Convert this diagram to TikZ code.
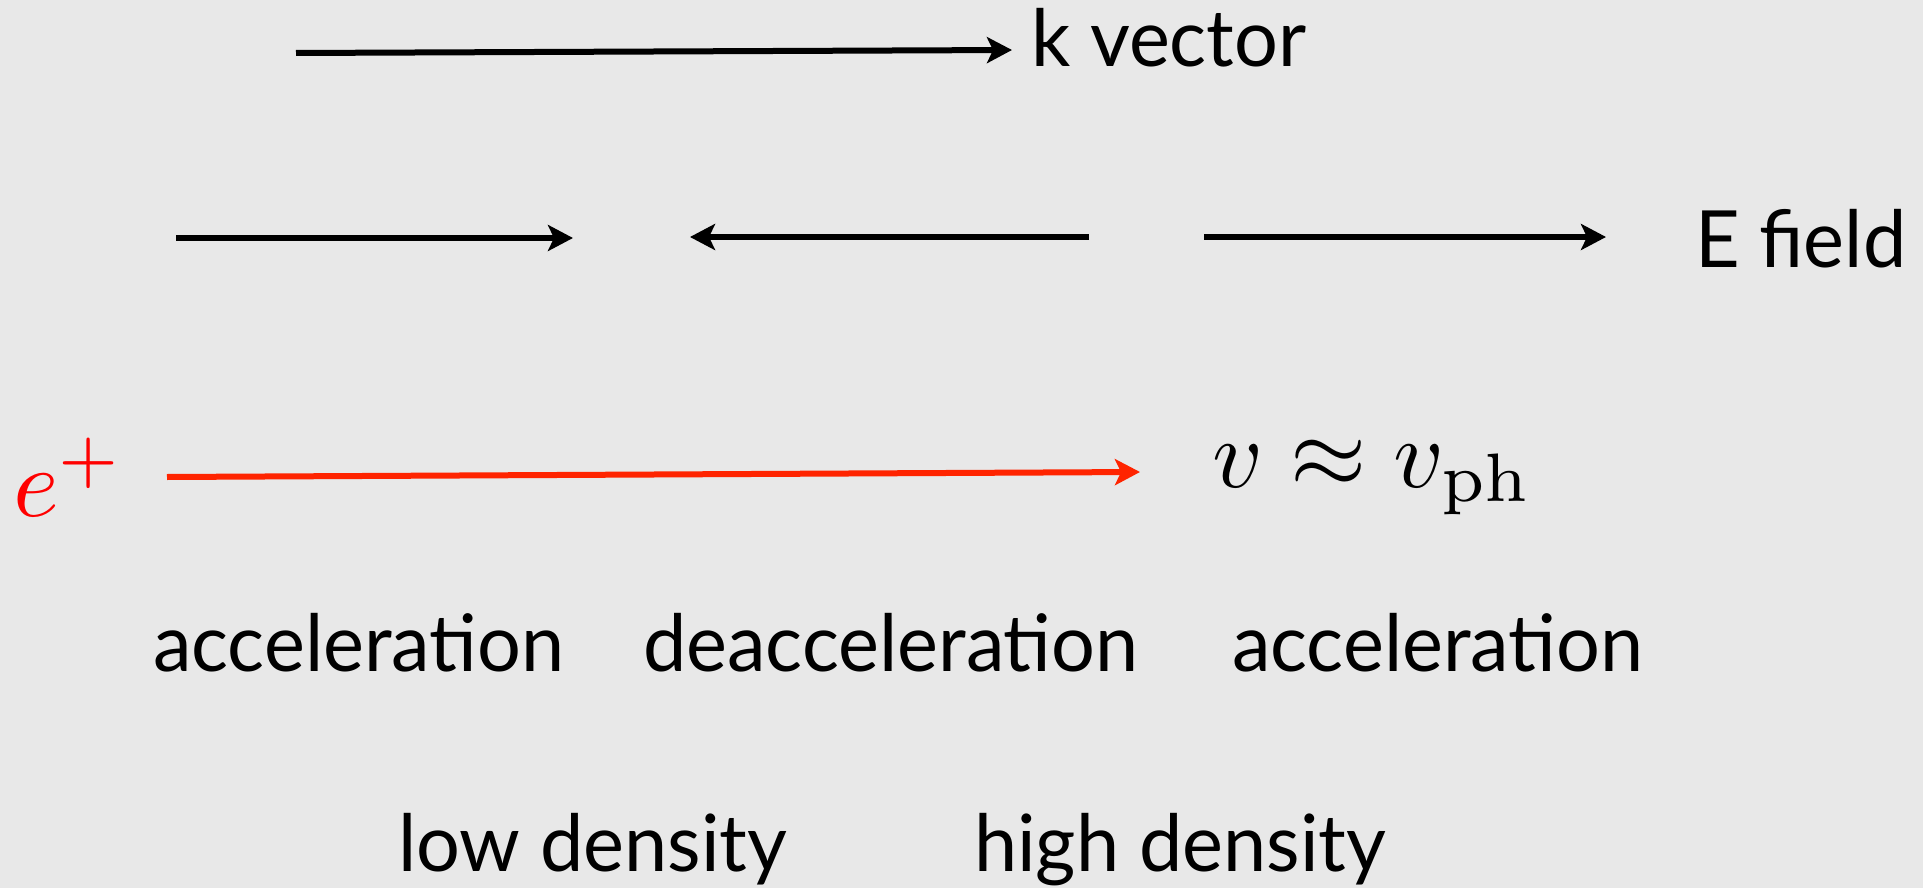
\documentclass[tikz,border=0pt]{standalone}
\usepackage{graphicx}
\usepackage[no-math]{fontspec}
\setmainfont{Lato}[FakeStretch=0.98]
\usetikzlibrary{arrows.meta}
\definecolor{bg}{HTML}{E8E8E8}
\definecolor{arrred}{RGB}{255,36,0}
\newcommand{\bigmath}[1]{\scalebox{4.9}{$#1$}}
\tikzset{
  lbl/.style={anchor=base west,inner sep=0pt,outer sep=0pt,font=\fontsize{39.5pt}{48pt}\selectfont},
  mathlbl/.style={anchor=base west,inner sep=0pt,outer sep=0pt,font=\fontsize{10pt}{12pt}\selectfont},
  arr/.style={line width=3pt,-{Stealth[length=12.5pt,width=13pt,inset=3pt]}},
}
\begin{document}
\begin{tikzpicture}[x=0.5pt,y=-0.5pt]
\fill[bg] (0,0) rectangle (1923,888);
\useasboundingbox (0,0) rectangle (1923,888);
% labels
\node[lbl] (kvec) at (1031,67) {k vector};
\node[lbl] (efield) at (1695,267) {E field};
\node[lbl] (acc1) at (153,671) {acceleration};
\node[lbl] (dec) at (643,671) {deacceleration};
\node[lbl] (acc2) at (1232,671) {acceleration};
\node[lbl] (low) at (398,871) {low density};
\node[lbl] (high) at (974,871) {high density};
\node[mathlbl,text=red] (epos) at (13,516) {\bigmath{e^+}};
\node[mathlbl] (vel) at (1212,487) {\bigmath{v\approx v_{\mathrm{ph}}}};
% arrow end points
\coordinate (k0) at (296,53);
\coordinate (k1) at (1012,50);
\coordinate (e10) at (176,238);
\coordinate (e11) at (573,238);
\coordinate (e20) at (1089,237);
\coordinate (e21) at (690,237);
\coordinate (e30) at (1204,237);
\coordinate (e31) at (1606,237);
\coordinate (r0) at (167,477);
\coordinate (r1) at (1140,472);
% arrows
\draw[arr] (k0) -- (k1);
\draw[arr] (e10) -- (e11);
\draw[arr] (e20) -- (e21);
\draw[arr] (e30) -- (e31);
\draw[arr,arrred] (r0) -- (r1);
\end{tikzpicture}
\end{document}
